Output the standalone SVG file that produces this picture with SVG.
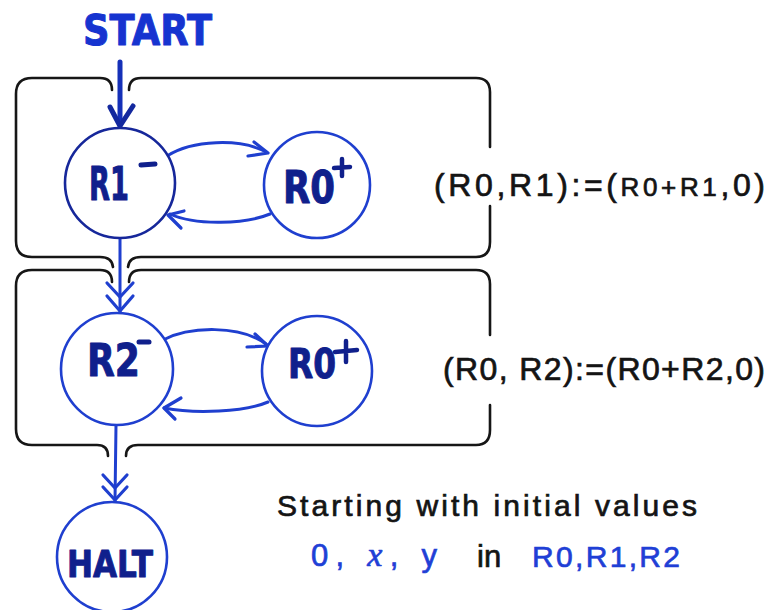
<svg xmlns="http://www.w3.org/2000/svg" width="780" height="610" viewBox="0 0 780 610">
  <style>
    .frame { fill: none; stroke: #161616; stroke-width: 2.6; stroke-linecap: round; stroke-linejoin: round; }
    .node { fill: #ffffff; stroke: #1f3fcf; stroke-width: 2.6; }
    .node-dark { fill: #ffffff; stroke: #16279a; stroke-width: 2.6; }
    .edge { fill: none; stroke: #1f3fcf; stroke-width: 3; stroke-linecap: round; stroke-linejoin: round; }
    .head { fill: none; stroke: #1f3fcf; stroke-width: 3.2; stroke-linecap: round; stroke-linejoin: round; }
    .lbl { font-family: "DejaVu Sans", "Liberation Sans", sans-serif; font-weight: bold; fill: #10208c; stroke: #10208c; stroke-width: 1; stroke-linejoin: round; }
    .hand { font-family: "Liberation Sans", "Open Sans", sans-serif; fill: #141414; stroke: #141414; stroke-width: 0.7; }
    .hand-blue { font-family: "Liberation Sans", "Open Sans", sans-serif; fill: #1f3fd6; stroke: #1f3fd6; stroke-width: 0.7; }
  </style>

  <!-- loop frames (block brackets) -->
  <g id="frames">
    <!-- upper block: R1 decrement loop -->
    <path class="frame" d="M112,90 Q112,78 100,78 L32,78 Q16,78 16,94 L16,241 Q16,257 32,257 L100,257 Q112,257 113,267"/>
    <path class="frame" d="M129,90 Q129,78 141,78 L476,78 Q490,78 490,92 L490,147"/>
    <path class="frame" d="M490,206 L490,242 Q490,257 476,257 L141,257 Q129,257 128,267"/>
    <!-- lower block: R2 decrement loop -->
    <path class="frame" d="M112,282 Q112,270 100,270 L32,270 Q16,270 16,286 L16,429 Q16,445 32,445 L97,445 Q108,445 108,456"/>
    <path class="frame" d="M129,282 Q129,270 141,270 L476,270 Q490,270 490,284 L490,335"/>
    <path class="frame" d="M490,405 L490,430 Q490,445 476,445 L138,445 Q126,445 126,456"/>
  </g>

  <!-- connectors -->
  <g id="connectors">
    <!-- START into R1- -->
    <path d="M120,62 L120,125" fill="none" stroke="#1530b8" stroke-width="5" stroke-linecap="round"/>
    <path d="M110,107 L120,126 L133,106" fill="none" stroke="#13289e" stroke-width="5" stroke-linecap="round" stroke-linejoin="round"/>

    <!-- R1- to R0+ and back -->
    <path class="edge" d="M167,156 C192,140 240,138 266,152"/>
    <path class="head" d="M254,142 L268,153 L248,156"/>
    <path class="edge" d="M270,214 C246,224 196,226 170,214"/>
    <path class="head" d="M184,211 L168,215 L181,228"/>

    <!-- R1- exit into R2- -->
    <path class="edge" d="M120,238 L120,312"/>
    <path class="head" d="M107,283 L120,297 L133,283"/>
    <path class="head" d="M107,296 L120,311 L133,296"/>

    <!-- R2- to R0+ and back -->
    <path class="edge" d="M163,340 C190,326 240,325 266,344"/>
    <path class="head" d="M255,334 L268,346 L247,347"/>
    <path class="edge" d="M268,402 C245,412 195,414 164,408"/>
    <path class="head" d="M181,398 L164,408 L175,419"/>

    <!-- R2- exit into HALT -->
    <path class="edge" d="M116,425 L115,501"/>
    <path class="head" d="M103,475 L115,488 L127,475"/>
    <path class="head" d="M103,487 L115,500 L127,487"/>
  </g>

  <g id="start">
    <text x="83" y="45" class="lbl" font-size="42" style="fill:#1634d0;stroke:#1634d0" textLength="129" lengthAdjust="spacingAndGlyphs">START</text>
  </g>

  <g id="r1-dec">
    <circle class="node-dark" cx="120" cy="183" r="55"/>
    <text x="89" y="200" class="lbl" font-size="46" textLength="40" lengthAdjust="spacingAndGlyphs">R1</text>
    <path d="M141,165 L155,164" stroke="#10208c" stroke-width="5" stroke-linecap="round"/>
  </g>

  <g id="r0-inc-a">
    <circle class="node" cx="317" cy="185" r="53"/>
    <text x="283" y="203" class="lbl" font-size="44" textLength="52" lengthAdjust="spacingAndGlyphs">R0</text>
    <path d="M334,168 L350,167 M342,159 L342,176" stroke="#10208c" stroke-width="4.5" stroke-linecap="round"/>
  </g>

  <g id="r2-dec">
    <circle class="node" cx="117" cy="369" r="56"/>
    <text x="87" y="376" class="lbl" font-size="44" textLength="53" lengthAdjust="spacingAndGlyphs">R2</text>
    <path d="M139,342 L149,342" stroke="#10208c" stroke-width="5" stroke-linecap="round"/>
  </g>

  <g id="r0-inc-b">
    <circle class="node" cx="317" cy="371" r="55"/>
    <text x="288" y="378" class="lbl" font-size="40" textLength="48" lengthAdjust="spacingAndGlyphs">R0</text>
    <path d="M335,352 L357,350 M346,341 L346,362" stroke="#10208c" stroke-width="4.5" stroke-linecap="round"/>
  </g>

  <g id="halt">
    <circle class="node" cx="112" cy="557" r="55"/>
    <text x="67" y="577" class="lbl" font-size="38" textLength="86" lengthAdjust="spacingAndGlyphs">HALT</text>
  </g>

  <!-- loop effects -->
  <g id="effect-r1">
    <text x="434" y="196" class="hand" font-size="32" textLength="331" lengthAdjust="spacing">(R0,R1):=(<tspan font-size="26">R0+R1</tspan>,0)</text>
  </g>
  <g id="effect-r2">
    <text x="443" y="380" class="hand" font-size="32" textLength="322" lengthAdjust="spacing">(R0, R2):=(R0+R2,0)</text>
  </g>

  <!-- initial values note -->
  <g id="note">
    <text x="277" y="516" class="hand" font-size="30" textLength="420" lengthAdjust="spacing">Starting with initial values</text>
    <text x="311" y="566" class="hand-blue" font-size="31" textLength="126" lengthAdjust="spacing">0, <tspan font-family="Liberation Serif, serif" font-style="italic" font-size="34">x</tspan>, y</text>
    <text x="477" y="567" class="hand" font-size="31">in</text>
    <text x="532" y="567" class="hand-blue" font-size="30" textLength="148" lengthAdjust="spacing">R0,R1,R2</text>
  </g>
</svg>
